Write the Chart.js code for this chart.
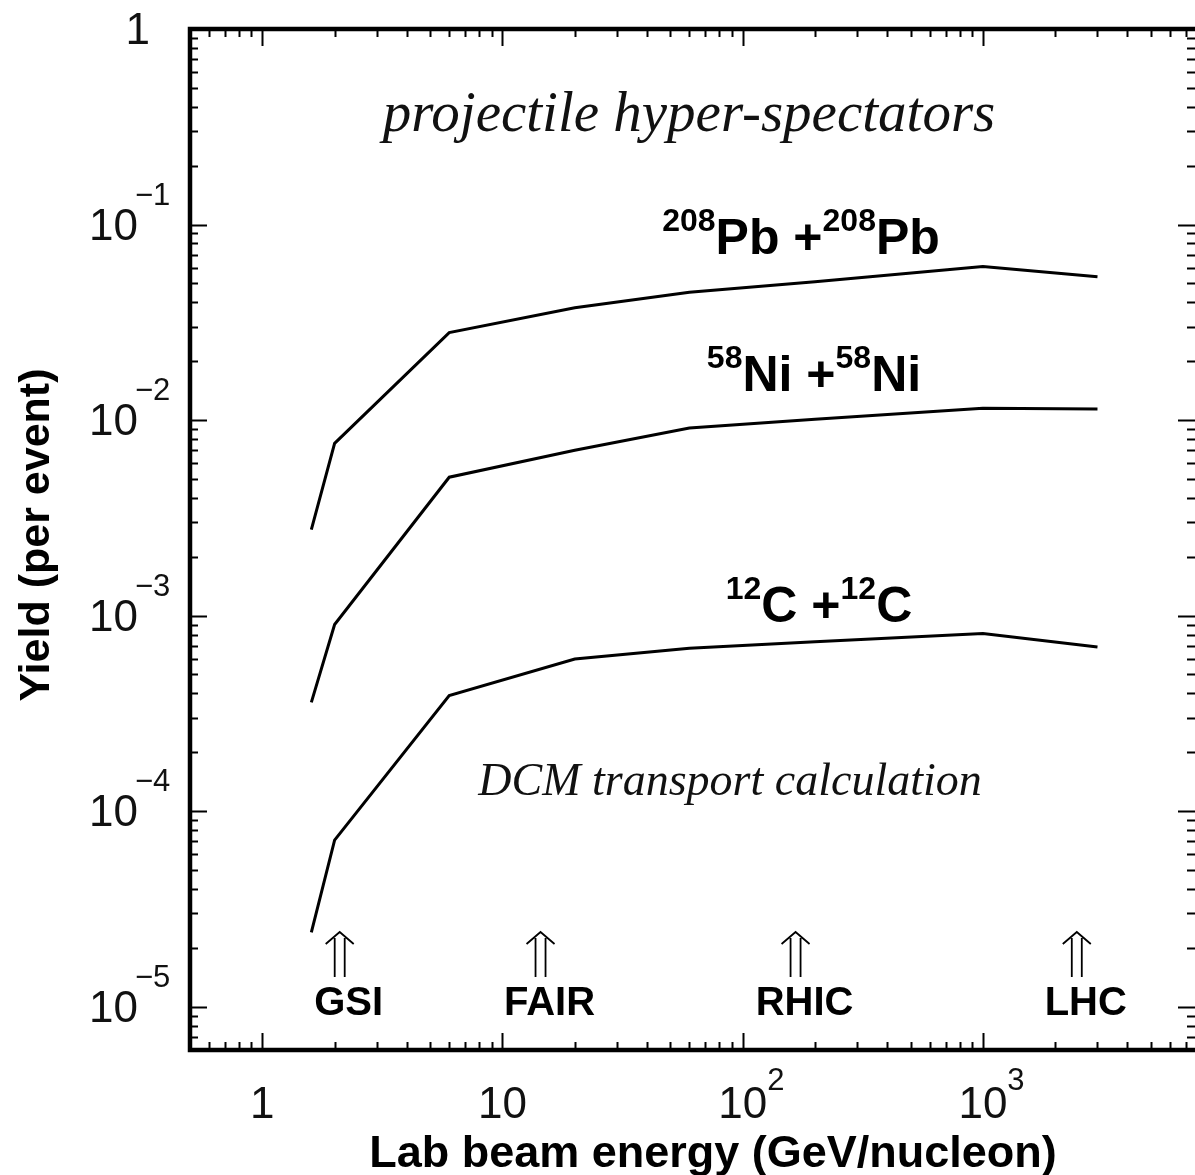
<!DOCTYPE html>
<html>
<head>
<meta charset="utf-8">
<title>Projectile hyper-spectators</title>
<script src="https://cdn.jsdelivr.net/npm/chart.js@4.4.0/dist/chart.umd.min.js"></script>
<style>
  body { margin: 0; background: #fff; }
  #box { width: 1195px; height: 1175px; }
</style>
</head>
<body>
<div id="box"><canvas id="myChart" width="1195" height="1175"></canvas></div>
<script>
// lab beam energy (GeV/nucleon) of the DCM points
const energies = [1.6, 2, 6, 20, 60, 200, 1000, 3000];
// yield per event
const yieldPb = [2.75e-3, 7.6e-3, 2.8e-2, 3.75e-2, 4.5e-2, 5.1e-2, 6.1e-2, 5.4e-2];
const yieldNi = [3.6e-4, 9.0e-4, 5.1e-3, 7.0e-3, 9.1e-3, 1.01e-2, 1.15e-2, 1.14e-2];
const yieldC = [2.4e-5, 7.1e-5, 3.9e-4, 6.0e-4, 6.8e-4, 7.35e-4, 8.1e-4, 6.9e-4];

const facilities = ["GSI", "FAIR", "RHIC", "LHC"];
const facilityEnergy = [2.1, 14.4, 166, 2460];

const xTicks = [1, 10, 100, 1000];
const xTickLabels = [["1", ""], ["10", ""], ["10", "2"], ["10", "3"]];
const yTicks = [1, 1e-1, 1e-2, 1e-3, 1e-4, 1e-5];
const yTickLabels = [["1", ""], ["10", "\u22121"], ["10", "\u22122"], ["10", "\u22123"], ["10", "\u22124"], ["10", "\u22125"]];

const SANS = "'Liberation Sans', Arial, sans-serif";
const SERIF = "'Liberation Serif', 'Times New Roman', serif";

function logTicks(min, max) {
  const out = [];
  for (let d = Math.floor(Math.log10(min)); d <= Math.ceil(Math.log10(max)); d++) {
    for (let m = 1; m < 10; m++) {
      const v = m * Math.pow(10, d);
      if (v >= min * 0.9999 && v <= max * 1.0001) out.push({ v, major: m === 1 });
    }
  }
  return out;
}

// parts: [text, font, dy]
function drawParts(c, parts, x, y, align) {
  let w = 0;
  parts.forEach((p) => { c.font = p[1]; w += c.measureText(p[0]).width; });
  let cx = align === "center" ? x - w / 2 : align === "right" ? x - w : x;
  c.textAlign = "left";
  c.textBaseline = "alphabetic";
  parts.forEach((p) => {
    c.font = p[1];
    c.fillText(p[0], cx, y + p[2]);
    cx += c.measureText(p[0]).width;
  });
}

function nucleusLabel(mass, sym) {
  const sup = "bold 32px " + SANS, big = "bold 50px " + SANS;
  return [[mass, sup, -23], [sym + " +", big, 0], [mass, sup, -23], [sym, big, 0]];
}

const framePlugin = {
  id: "frame",
  afterDraw(chart) {
    const c = chart.ctx;
    const a = chart.chartArea;
    const xs = chart.scales.x, ys = chart.scales.y;
    c.save();
    c.fillStyle = "#000";
    c.strokeStyle = "#000";

    // inward ticks on all four sides
    c.lineWidth = 2;
    c.beginPath();
    logTicks(xs.min, xs.max).forEach((t) => {
      const px = Math.round(xs.getPixelForValue(t.v)) + 0.5;
      const len = t.major ? 17 : 8;
      c.moveTo(px, a.bottom); c.lineTo(px, a.bottom - len);
      c.moveTo(px, a.top); c.lineTo(px, a.top + len);
    });
    logTicks(ys.min, ys.max).forEach((t) => {
      const py = Math.round(ys.getPixelForValue(t.v)) + 0.5;
      const len = t.major ? 17 : 8;
      c.moveTo(a.left, py); c.lineTo(a.left + len, py);
      c.moveTo(a.right, py); c.lineTo(a.right - len, py);
    });
    c.stroke();

    // frame
    c.lineWidth = 4.5;
    c.beginPath();
    c.moveTo(a.right + 4, a.top); c.lineTo(a.left, a.top);
    c.lineTo(a.left, a.bottom); c.lineTo(a.right + 4, a.bottom);
    c.stroke();

    // tick labels
    c.fillStyle = "#111";
    const num = "44px " + SANS, exp = "31px " + SANS;
    xTicks.forEach((v, i) => {
      const px = xs.getPixelForValue(v);
      const [m, e] = xTickLabels[i];
      c.font = num;
      const w = c.measureText(m).width;
      c.textAlign = "left";
      c.fillText(m, px - w / 2, a.bottom + 68);
      if (e) { c.font = exp; c.fillText(e, px + w / 2, a.bottom + 40); }
    });
    yTicks.forEach((v, i) => {
      const py = ys.getPixelForValue(v);
      const [m, e] = yTickLabels[i];
      c.textAlign = "left";
      if (!e) {
        c.font = num;
        c.textAlign = "right";
        c.fillText(m, a.left - 40, py + 15);
        return;
      }
      c.font = num;
      const w = c.measureText(m).width;
      c.fillText(m, a.left - 52 - w, py + 15);
      c.font = exp;
      c.fillText(e, a.left - 55, py - 20);
    });

    // axis titles
    c.fillStyle = "#000";
    c.font = "bold 45px " + SANS;
    c.textAlign = "center";
    c.fillText("Lab beam energy (GeV/nucleon)", 713, 1167);
    c.save();
    c.translate(49, 535);
    c.rotate(-Math.PI / 2);
    c.font = "bold 43px " + SANS;
    c.fillText("Yield (per event)", 0, 0);
    c.restore();

    // italic captions
    c.fillStyle = "#111";
    c.font = "italic 57px " + SERIF;
    c.textAlign = "center";
    c.fillText("projectile hyper-spectators", 689, 131);
    c.font = "italic 46px " + SERIF;
    c.fillText("DCM transport calculation", 730, 795);

    // reaction labels
    c.fillStyle = "#000";
    drawParts(c, nucleusLabel("208", "Pb"), 801, 254, "center");
    drawParts(c, nucleusLabel("58", "Ni"), 814, 391, "center");
    drawParts(c, nucleusLabel("12", "C"), 819, 622, "center");

    // facility arrows
    c.lineWidth = 1.8;
    facilities.forEach((name, i) => {
      const px = xs.getPixelForValue(facilityEnergy[i]);
      c.beginPath();
      c.moveTo(px - 14, 944); c.lineTo(px, 932); c.lineTo(px + 14, 944);
      c.moveTo(px - 5, 938); c.lineTo(px - 5, 977);
      c.moveTo(px + 5, 938); c.lineTo(px + 5, 977);
      c.stroke();
      c.font = "bold 40px " + SANS;
      c.textAlign = "center";
      c.fillText(name, px + 9, 1015);
    });
    c.restore();
  },
};

const ctx = document.getElementById("myChart").getContext("2d");
function pairs(ys) {
  return energies.map((e, i) => ({ x: e, y: ys[i] }));
}
function curve(label, ys) {
  return { label, data: pairs(ys), borderColor: "#000", borderWidth: 3, pointRadius: 0, fill: false, tension: 0 };
}

const config = {
  type: "line",
  data: {
    datasets: [
      curve("208Pb + 208Pb", yieldPb),
      curve("58Ni + 58Ni", yieldNi),
      curve("12C + 12C", yieldC),
    ],
  },
  options: {
    responsive: false,
    animation: false,
    layout: { padding: { left: 190, top: 29, right: 0, bottom: 125 } },
    plugins: { legend: { display: false }, tooltip: { enabled: false } },
    scales: {
      x: { type: "logarithmic", min: 0.5, max: 7640, display: false },
      y: { type: "logarithmic", min: 6e-6, max: 1, display: false },
    },
  },
  plugins: [framePlugin],
};
let myChart = new Chart(ctx, config);
</script>
</body>
</html>
